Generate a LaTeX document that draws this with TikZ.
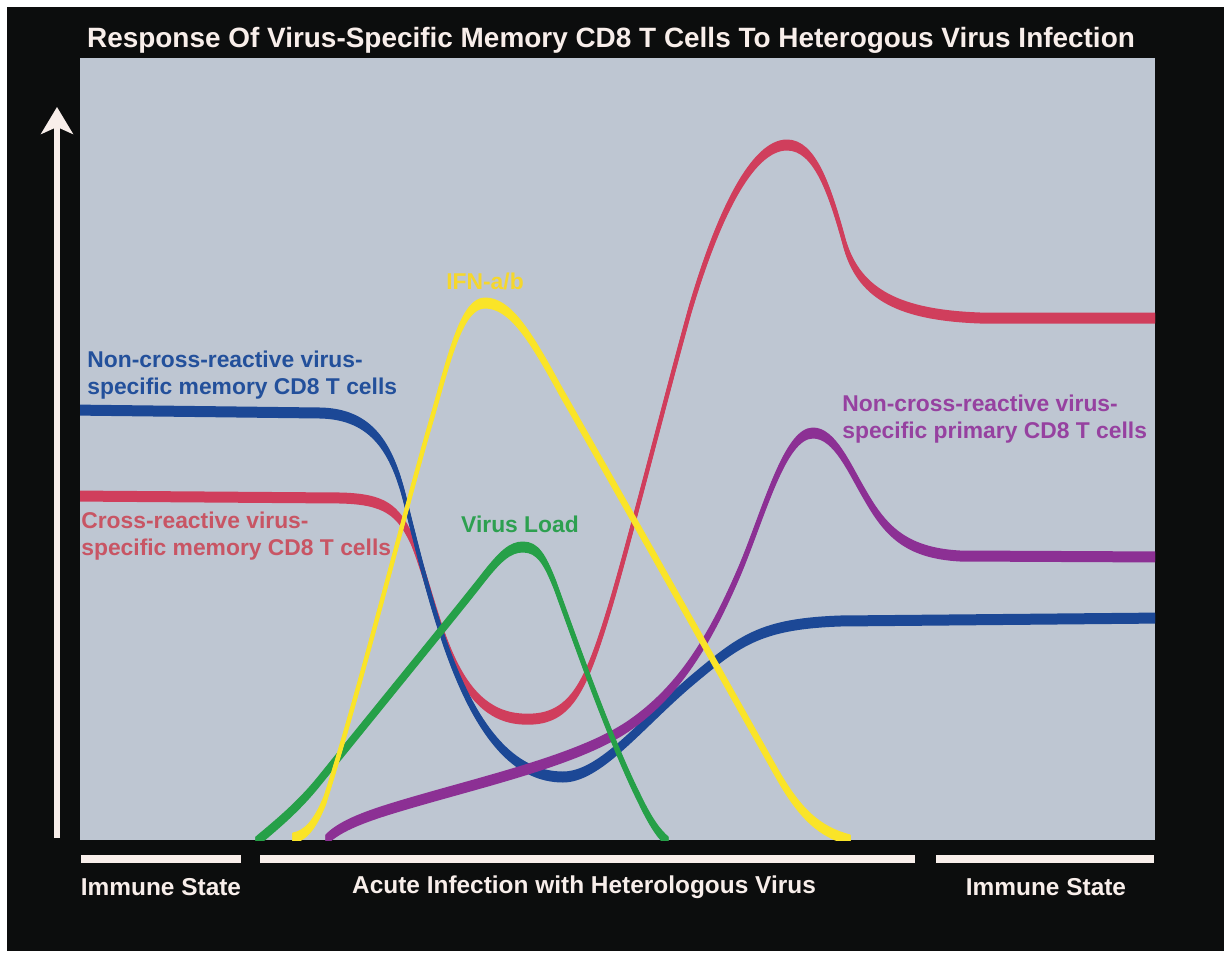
\documentclass[tikz,border=0pt]{standalone}
\usepackage{fontspec}
\setmainfont{Liberation Sans}
\usetikzlibrary{arrows.meta}

% colours
\definecolor{frameblack}{RGB}{12,13,13}
\definecolor{panelgrey}{RGB}{190,198,210}
\definecolor{offwhite}{RGB}{248,238,234}
\definecolor{cBlue}{RGB}{28,72,150}
\definecolor{cRed}{RGB}{208,62,92}
\definecolor{cYellow}{RGB}{250,228,40}
\definecolor{cGreen}{RGB}{38,160,72}
\definecolor{cPurple}{RGB}{140,48,148}
\definecolor{tBlue}{RGB}{35,80,155}
\definecolor{tRed}{RGB}{200,85,100}
\definecolor{tYellow}{RGB}{245,215,45}
\definecolor{tGreen}{RGB}{45,160,80}
\definecolor{tPurple}{RGB}{150,65,160}

% a curve drawn with a vertical flat nib: thick where level, thin where steep
\newcommand\penstroke[2]{%
  \foreach \dy in {-4.5,-3.5,...,4.5}{%
    \draw[#1,line width=0.04cm,line cap=round,line join=round,shift={(0,\dy)}] #2;}}

\tikzset{
  curvelabel/.style={font=\fontsize{13pt}{15.3pt}\selectfont\bfseries,
    inner sep=0pt, align=left},
  phaselabel/.style={font=\fontsize{13.9pt}{16pt}\selectfont\bfseries,
    text=offwhite, inner sep=0pt},
  phasebar/.style={draw=offwhite, line width=0.16cm},
}

\begin{document}
\begin{tikzpicture}[x=0.02cm,y=-0.02cm]
\useasboundingbox (0,0) rectangle (1227,953);
\fill[white] (0,0) rectangle (1227,953);
\fill[frameblack] (7,7) rectangle (1224,951);
\fill[panelgrey] (80,58) rectangle (1155,840);

% title
\node[font=\fontsize{15.9pt}{18pt}\selectfont\bfseries, text=offwhite, inner sep=0pt]
  (title) at (611,40) {Response Of Virus-Specific Memory CD8 T Cells To Heterogous Virus Infection};

% vertical axis arrow
\coordinate (axisfoot) at (57,838);
\coordinate (axistop) at (57,107);
\draw[offwhite, line width=0.12cm, -{Stealth[length=0.54cm,width=0.64cm,inset=0.14cm]}]
  (axisfoot) -- (axistop);

% curves
\begin{scope}
\clip (80,58) rectangle (1155,840);
% cross-reactive memory cells
\penstroke{cRed}{(70,496) -- (340,498)
  .. controls (385,499) and (398,510) .. (412,540)
  .. controls (440,610) and (450,715) .. (522,719)
  .. controls (570,722) and (585,690) .. (610,607)
  .. controls (630,540) and (665,400) .. (690,310)
  .. controls (718,215) and (752,145) .. (787,145)
  .. controls (815,145) and (830,190) .. (845,245)
  .. controls (860,295) and (900,315) .. (980,318) -- (1165,318)}
% non-cross-reactive memory cells
\penstroke{cBlue}{(70,410) -- (320,413)
  .. controls (372,414) and (392,448) .. (405,500)
  .. controls (434,615) and (470,777) .. (563,777)
  .. controls (600,777) and (640,725) .. (690,682)
  .. controls (740,640) and (760,624) .. (840,621) -- (1165,618)}
% primary cells
\penstroke{cPurple}{(326,840)
  .. controls (340,825) and (370,815) .. (400,806)
  .. controls (480,782) and (580,760) .. (630,725)
  .. controls (680,690) and (710,640) .. (740,570)
  .. controls (765,510) and (785,433) .. (813,433)
  .. controls (835,433) and (850,470) .. (865,495)
  .. controls (885,530) and (905,553) .. (960,556) -- (1165,557)}
% virus load
\penstroke{cGreen}{(256,842)
  .. controls (280,822) and (300,805) .. (320,780)
  .. controls (370,718) and (450,620) .. (480,582)
  .. controls (500,556) and (510,547) .. (523,547)
  .. controls (538,547) and (545,560) .. (555,585)
  .. controls (575,640) and (610,740) .. (640,800)
  .. controls (652,825) and (660,835) .. (668,842)}
% interferon
\penstroke{cYellow}{(293,838)
  .. controls (305,836) and (315,825) .. (325,800)
  .. controls (360,690) and (405,510) .. (432,418)
  .. controls (450,355) and (462,303) .. (485,303)
  .. controls (510,303) and (530,335) .. (560,390)
  .. controls (620,495) and (730,690) .. (775,770)
  .. controls (800,815) and (820,832) .. (850,840)}
\end{scope}

% curve labels
\node[curvelabel, text=tBlue, anchor=west] (lblNonCrossMem) at (87,375)
  {Non-cross-reactive virus-\\specific memory CD8 T cells};
\node[curvelabel, text=tRed, anchor=west] (lblCrossMem) at (81,536)
  {Cross-reactive virus-\\specific memory CD8 T cells};
\node[curvelabel, text=tYellow] (lblIFN) at (485,281) {IFN-a/b};
\node[curvelabel, text=tGreen] (lblVirus) at (520,524) {Virus Load};
\node[curvelabel, text=tPurple, anchor=west] (lblPrimary) at (842,419)
  {Non-cross-reactive virus-\\specific primary CD8 T cells};

% phase bars and labels
\coordinate (bar1a) at (81,859);  \coordinate (bar1b) at (241,859);
\coordinate (bar2a) at (260,859); \coordinate (bar2b) at (915,859);
\coordinate (bar3a) at (936,859); \coordinate (bar3b) at (1154,859);
\draw[phasebar] (bar1a) -- (bar1b);
\draw[phasebar] (bar2a) -- (bar2b);
\draw[phasebar] (bar3a) -- (bar3b);
\node[phaselabel] (lblImmune1) at (161,887) {Immune State};
\node[phaselabel] (lblAcute) at (584,887) {Acute Infection with Heterologous Virus};
\node[phaselabel] (lblImmune2) at (1046,887) {Immune State};
\end{tikzpicture}
\end{document}
